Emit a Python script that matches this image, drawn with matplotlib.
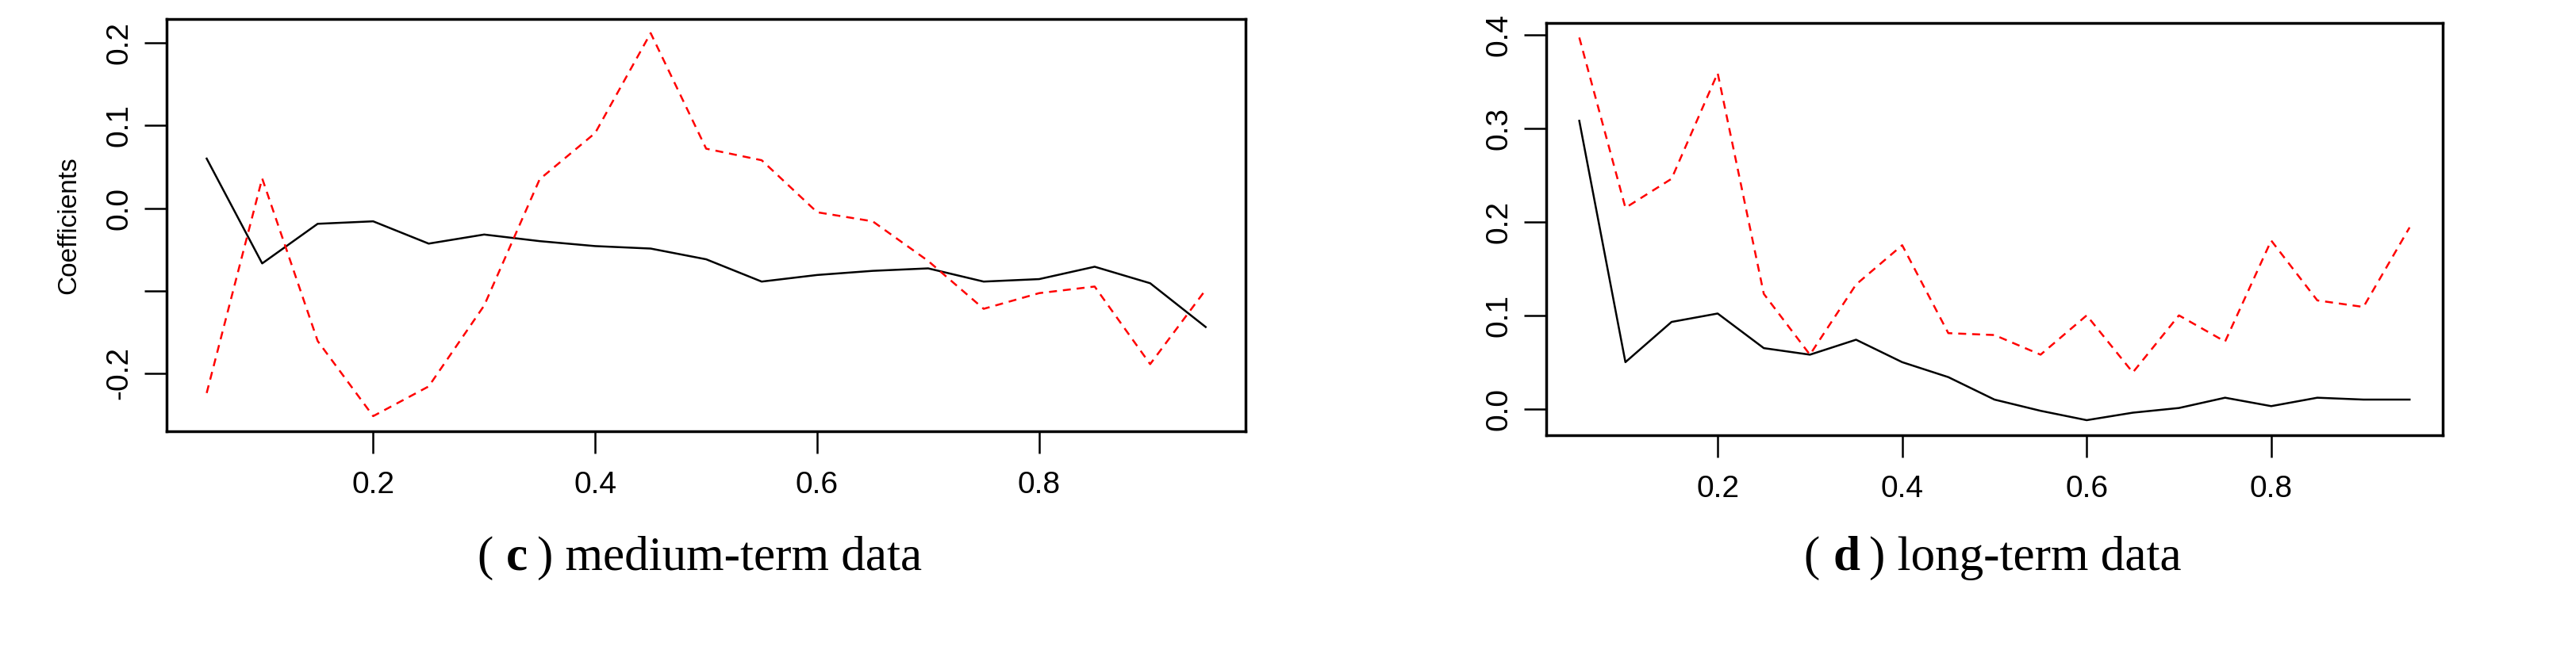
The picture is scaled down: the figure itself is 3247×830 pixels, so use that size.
import matplotlib.pyplot as plt

# quantile levels shared by both panels
tau = [0.05, 0.10, 0.15, 0.20, 0.25, 0.30, 0.35, 0.40, 0.45, 0.50,
       0.55, 0.60, 0.65, 0.70, 0.75, 0.80, 0.85, 0.90, 0.95]

# (c) medium-term data
medium_black = [0.060, -0.067, -0.019, -0.016, -0.043, -0.032, -0.040, -0.046, -0.049, -0.062,
                -0.089, -0.081, -0.076, -0.073, -0.089, -0.086, -0.071, -0.091, -0.144]
medium_red = [-0.224, 0.036, -0.161, -0.252, -0.216, -0.118, 0.035, 0.091, 0.212, 0.072,
              0.058, -0.005, -0.016, -0.064, -0.122, -0.103, -0.095, -0.189, -0.099]

# (d) long-term data
long_black = [0.308, 0.050, 0.093, 0.102, 0.065, 0.058, 0.074, 0.050, 0.034, 0.010,
              -0.002, -0.012, -0.004, 0.001, 0.012, 0.003, 0.012, 0.010, 0.010]
long_red = [0.397, 0.215, 0.246, 0.359, 0.123, 0.058, 0.133, 0.175, 0.081, 0.079,
            0.058, 0.100, 0.039, 0.100, 0.072, 0.180, 0.116, 0.109, 0.194]

x_ticks = [0.2, 0.4, 0.6, 0.8]
medium_yticks = [-0.2, 0.0, 0.1, 0.2]
medium_ytick_labels = ["-0.2", "0.0", "0.1", "0.2"]
long_yticks = [0.0, 0.1, 0.2, 0.3, 0.4]


def draw_panel(ax, black, red, yticks, yminor, ylabels, ylim):
    ax.plot(tau, black, color="black", lw=1.8)
    ax.plot(tau, red, color="red", lw=1.8, linestyle=(0, (4, 3)))
    ax.set_xlim(0.014, 0.986)
    ax.set_ylim(*ylim)
    ax.set_xticks(x_ticks)
    ax.set_xticklabels([f"{v:.1f}" for v in x_ticks])
    ax.set_yticks(yticks + yminor)
    ax.set_yticklabels(ylabels + [""] * len(yminor), rotation=90, va="center")
    ax.tick_params(length=20, width=1.8, labelsize=28, pad=10)
    ax.tick_params(axis="x", pad=16)
    for s in ax.spines.values():
        s.set_linewidth(2.5)


plt.rcParams["font.family"] = ["Liberation Sans", "DejaVu Sans"]
fig = plt.figure(figsize=(32.48, 8.30), dpi=100)

ax1 = fig.add_axes([0.0647, 0.345, 0.4187, 0.626])
draw_panel(ax1, medium_black, medium_red, medium_yticks, [-0.1],
           medium_ytick_labels, (-0.270, 0.229))
ax1.set_ylabel("Coefficients", fontsize=24, labelpad=22)

ax2 = fig.add_axes([0.600, 0.338, 0.348, 0.627])
draw_panel(ax2, long_black, long_red, long_yticks, [],
           [f"{v:.1f}" for v in long_yticks], (-0.0285, 0.4125))

serif = ["Liberation Serif", "DejaVu Serif"]
fs = 44
fig.text(0.185, 0.152, "(", fontsize=fs, family=serif, ha="left", va="center")
fig.text(0.1965, 0.152, "c", fontsize=fs, family=serif, weight="bold", ha="left", va="center")
fig.text(0.2085, 0.152, ") medium-term data", fontsize=fs, family=serif, ha="left", va="center")
fig.text(0.700, 0.152, "(", fontsize=fs, family=serif, ha="left", va="center")
fig.text(0.7115, 0.152, "d", fontsize=fs, family=serif, weight="bold", ha="left", va="center")
fig.text(0.7255, 0.152, ") long-term data", fontsize=fs, family=serif, ha="left", va="center")

fig.savefig("out.png", dpi=100)
